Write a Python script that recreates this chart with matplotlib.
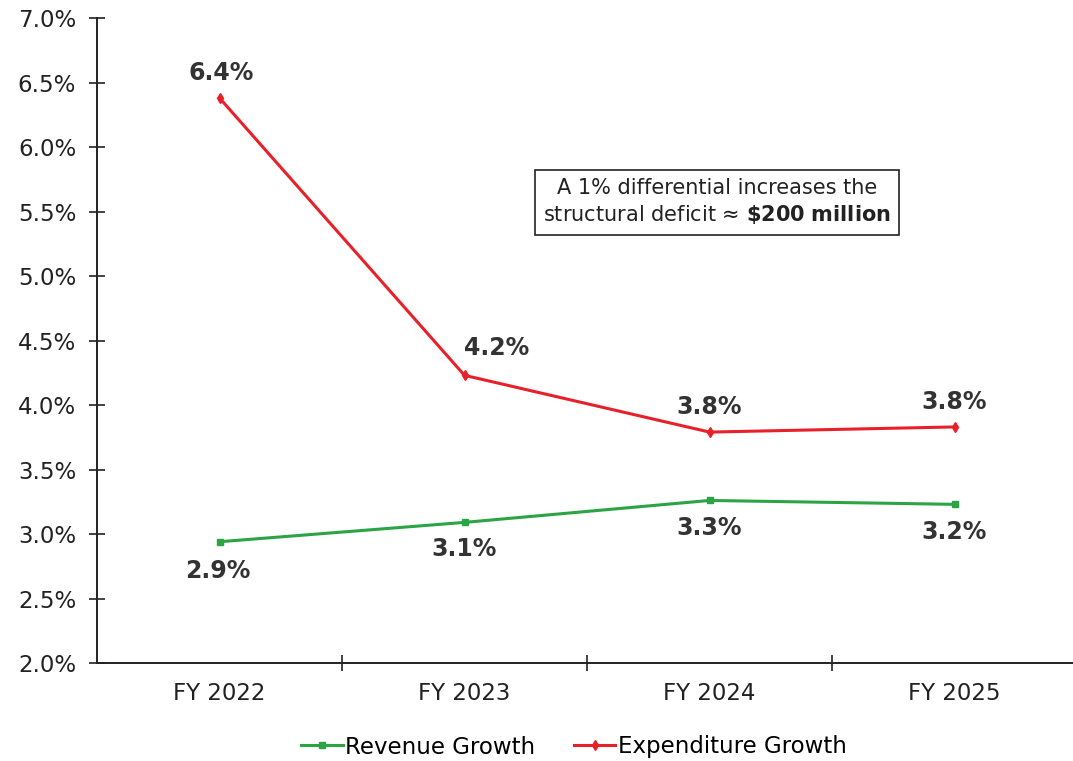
import matplotlib
matplotlib.use("Agg")
import matplotlib.pyplot as plt
from matplotlib.ticker import FixedLocator, FuncFormatter

categories = ["FY 2022", "FY 2023", "FY 2024", "FY 2025"]
revenue = [2.94, 3.09, 3.26, 3.23]
expenditure = [6.38, 4.23, 3.79, 3.83]
revenue_labels = ["2.9%", "3.1%", "3.3%", "3.2%"]
expenditure_labels = ["6.4%", "4.2%", "3.8%", "3.8%"]

plt.rcParams['font.family'] = ['DejaVu Sans']
fig = plt.figure(figsize=(10.73, 7.61), dpi=100)
W, H = 1073, 761
ax = fig.add_axes([97 / W, 1 - 663 / H, (1073 - 97) / W, (663 - 18) / H])

green = "#2ca444"
red = "#e8202a"
x = list(range(len(categories)))
ax.plot(x, revenue, color=green, lw=2.2, marker='s', ms=5, label="Revenue Growth")
ax.plot(x, expenditure, color=red, lw=2.2, marker='d', ms=5, label="Expenditure Growth")

ax.set_xlim(-0.5, (1073 - 97) / 245 - 0.5)
ax.set_ylim(2.0, 7.0)
ax.yaxis.set_major_locator(FixedLocator([2.0 + 0.5 * i for i in range(11)]))
ax.yaxis.set_major_formatter(FuncFormatter(lambda v, p: f"{v:.1f}%"))
ax.set_xticks(x)
ax.set_xticklabels(categories)
ax.xaxis.set_minor_locator(FixedLocator([0.5, 1.5, 2.5]))
ax.tick_params(axis='x', which='major', length=0, pad=14, labelsize=16.5, colors='#222222')
ax.tick_params(axis='x', which='minor', length=12, direction='inout', width=1.2, color='#222222')
ax.tick_params(axis='y', which='major', length=12, direction='inout', width=1.2, pad=9,
               labelsize=16.5, colors='#222222')
for s in ['top', 'right']:
    ax.spines[s].set_visible(False)
for s in ['left', 'bottom']:
    ax.spines[s].set_linewidth(1.4)
    ax.spines[s].set_color('#222222')

exp_off = [(1, 18), (23, 19.5), (0, 18), (0, 18)]
rev_off = [(-1, -21), (0, -19.5), (0, -20), (0, -20)]
for i in x:
    ax.annotate(expenditure_labels[i], (i, expenditure[i]), xytext=exp_off[i], textcoords='offset points',
                ha='center', va='center', fontsize=17, fontweight='bold', color='#333333')
    ax.annotate(revenue_labels[i], (i, revenue[i]), xytext=rev_off[i], textcoords='offset points',
                ha='center', va='center', fontsize=17, fontweight='bold', color='#333333')

fig.text(717 / W, 1 - 202 / H, "A 1% differential increases the\nstructural deficit \u2248 $\\bf{\\$200\\ million}$",
         ha='center', va='center', fontsize=15, color='#222222', linespacing=1.3,
         bbox=dict(boxstyle='square,pad=0.4', fc='white', ec='#222222', lw=1.2))

fig.legend(loc='center', bbox_to_anchor=(574 / W, 1 - 747 / H), ncol=2, frameon=False,
           fontsize=16.5, handlelength=1.8, handletextpad=0.1, columnspacing=1.7)

fig.savefig("out.png", dpi=100, facecolor='white')
